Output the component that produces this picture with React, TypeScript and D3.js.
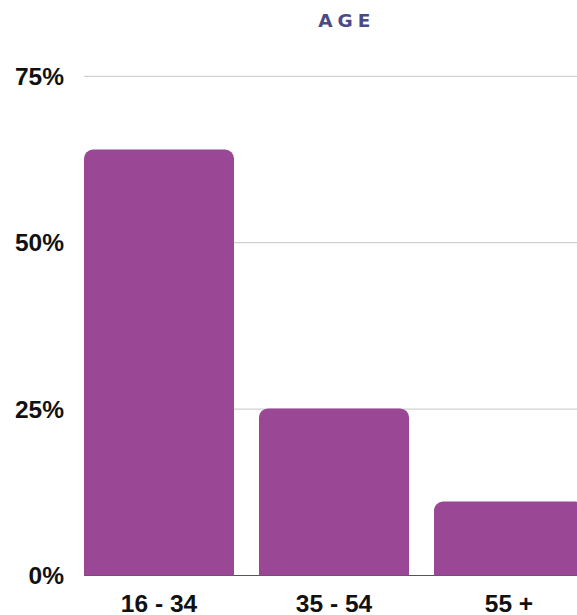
import React from "react";
import * as d3 from "d3";

const categories = ["16 - 34", "35 - 54", "55 +"];
const values = [64, 25.1, 11.1];
const tickValues = [0, 25, 50, 75];

export default function App() {
  const W = 577, H = 615;
  const x0 = 84, y0 = 575.5, yTop = 76.3;
  const x = d3.scaleBand<string>().domain(categories).range([x0, x0 + 175 * 3 - 25]).paddingInner(25 / 175).paddingOuter(0);
  const y = d3.scaleLinear().domain([0, 75]).range([y0, yTop]);
  const bw = x.bandwidth();
  const r = 9;
  const barPath = (xl: number, yt: number, w: number, h: number) => {
    const p = d3.path();
    p.moveTo(xl, yt + h);
    p.lineTo(xl, yt + r);
    p.arcTo(xl, yt, xl + r, yt, r);
    p.lineTo(xl + w - r, yt);
    p.arcTo(xl + w, yt, xl + w, yt + r, r);
    p.lineTo(xl + w, yt + h);
    p.closePath();
    return p.toString();
  };
  const ls = 5;
  return (
    <svg width={W} height={H} style={{ position: "fixed", left: 0, top: 0 }} fontFamily="Liberation Sans, Arial, sans-serif">
      <rect width={W} height={H} fill="#fff" />
      <text x={344.2 + ls / 2} y={27.3} textAnchor="middle" fontFamily="'DejaVu Sans', sans-serif" fontWeight={700} fontSize={18.5} letterSpacing={ls} fill="#4b4a86">AGE</text>
      {tickValues.filter(t => t > 0).map(t => (
        <line key={t} x1={x0} x2={W} y1={y(t)} y2={y(t)} stroke="#c6c6c6" strokeWidth={1} />
      ))}
      {tickValues.map(t => (
        <text key={t} x={64} y={y(t) + 8.7} textAnchor="end" fontWeight={700} fontSize={24.5} fill="#111">{t}%</text>
      ))}
      <line x1={x0} x2={W} y1={y0} y2={y0} stroke="#555" strokeWidth={1.2} />
      {categories.map((c, i) => {
        const xl = x(c)!;
        return <path key={c} d={barPath(xl, y(values[i]), bw, y0 - y(values[i]))} fill="#9a4795" />;
      })}
      {categories.map(c => (
        <text key={c} x={x(c)! + bw / 2} y={612.3} textAnchor="middle" fontWeight={700} fontSize={24.5} fill="#111">{c}</text>
      ))}
    </svg>
  );
}
